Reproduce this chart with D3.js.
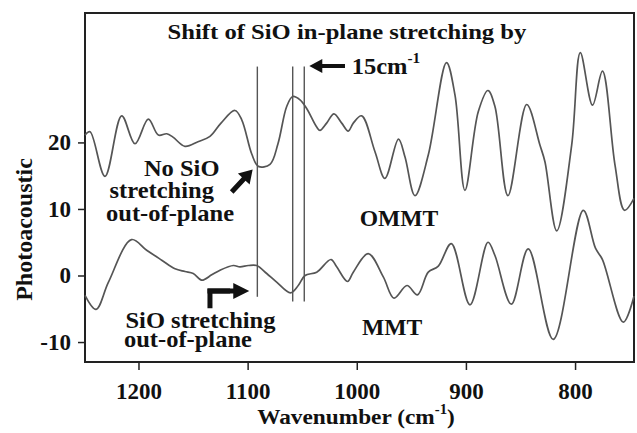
<!DOCTYPE html>
<html>
<head>
<meta charset="utf-8">
<script src="https://cdn.jsdelivr.net/npm/d3@7"></script>
<style>
  html, body { margin: 0; padding: 0; background: #fff; }
  svg { display: block; }
  text { font-family: "Liberation Serif", "Times New Roman", serif; font-weight: bold; fill: #111; }
</style>
</head>
<body>
<svg id="chart" width="637" height="433"></svg>
<script>
// Photoacoustic FTIR spectra, organo-modified (OMMT) and pristine (MMT) montmorillonite
const ommtWavenumber = [1249, 1244.4, 1230.7, 1215.4, 1203.2, 1191.0, 1181.8, 1174.1, 1168.4, 1157.4,
  1145.5, 1134.5, 1124.4, 1111.6, 1105.4, 1096.3, 1090.2, 1079.5, 1072.2, 1064.2,
  1058.7, 1052.0, 1045.9, 1036.7, 1033.7, 1027.6, 1020.9, 1013.8, 1007.8, 1003.2,
  995.5, 983.3, 974.2, 961.8, 955.8, 946.7, 934.5, 917.8, 910.0, 900.9,
  888.7, 879.8, 873.4, 861.5, 844.3, 832.2, 827.6, 816.8, 803.1, 795.2,
  784.0, 774.9, 763.4, 754.7, 746];
const ommtSignal = [21.1, 21.6, 14.9, 24.0, 19.8, 23.5, 21.1, 21.3, 20.8, 19.4,
  20.1, 20.9, 22.9, 24.8, 23.4, 18.3, 16.4, 16.7, 19.8, 25.4,
  26.9, 26.4, 25.1, 22.3, 21.8, 22.9, 24.3, 22.9, 21.7, 22.9,
  24.0, 18.6, 14.6, 20.5, 17.8, 12.0, 18.1, 32.0, 27.1, 12.8,
  24.6, 27.8, 25.4, 12.0, 25.7, 19.6, 17.1, 6.7, 19.6, 33.5,
  25.6, 30.7, 16.6, 9.8, 11.6];

const mmtWavenumber = [1249, 1238.9, 1227.5, 1206.4, 1192.5, 1178.7, 1166.5, 1157.4, 1149.8, 1142.1,
  1132.9, 1125.3, 1113.1, 1107.0, 1099.4, 1091.7, 1082.5, 1073.4, 1060.7, 1053.6,
  1047.4, 1036.7, 1023.6, 1018.4, 1008.5, 1003.2, 989.5, 975.7, 965.9, 954.0,
  944.4, 934.5, 925.3, 913.4, 896.3, 879.8, 873.4, 858.4, 842.9, 820.0,
  792.5, 781.3, 774.9, 755.8, 746];
const mmtSignal = [-3.0, -5.1, -1.0, 5.4, 3.8, 2.3, 1.0, 0.6, 0.3, -0.7,
  0.1, 0.8, 1.5, 1.3, 1.5, 1.5, 0.3, -1.0, -2.6, -1.5,
  0.0, 0.5, 2.4, 1.3, -0.9, 0.5, 3.3, -0.2, -3.4, -1.5,
  -2.9, 0.5, 1.4, 4.8, -4.4, 5.0, 3.0, -4.3, 4.0, -9.6,
  9.8, 4.1, 2.4, -7.0, -3.1];

// SiO stretching band positions (cm-1) and the vertical extent of each marker
const markerWavenumber = [1091.1, 1058.7, 1048.1];
const markerTop = [31.4, 31.4, 31.4];
const markerBottom = [-3.2, -3.9, -3.9];

const xTicks = [1200, 1100, 1000, 900, 800];
const yTicks = [-10, 0, 10, 20];

const svg = d3.select("#chart");
const plot = { left: 85, right: 634, top: 13, bottom: 362 };

const x = d3.scaleLinear().domain([1249, 746]).range([plot.left, plot.right]);
const y = d3.scaleLinear().domain([-13, 39.45]).range([plot.bottom, plot.top]);

// axes (plain hyphen for negative tick labels)
const plain = d => String(d);
const xAxis = d3.axisBottom(x).tickValues(xTicks).tickSize(8).tickPadding(8).tickFormat(plain);
const yAxis = d3.axisLeft(y).tickValues(yTicks).tickSize(7).tickPadding(7).tickFormat(plain);

const gx = svg.append("g").attr("transform", `translate(0,${plot.bottom})`).call(xAxis);
const gy = svg.append("g").attr("transform", `translate(${plot.left},0)`).call(yAxis);
[gx, gy].forEach(g => {
  g.select(".domain").remove();
  g.selectAll(".tick line").attr("stroke", "#222").attr("stroke-width", 1.5);
  g.selectAll(".tick text").style("font-size", "23px").attr("fill", "#111")
    .style("font-family", "'Liberation Serif', serif").style("font-weight", "bold");
});
gx.selectAll(".tick text").attr("dy", "0.9em");

// frame
svg.append("rect")
  .attr("x", plot.left).attr("y", plot.top)
  .attr("width", plot.right - plot.left).attr("height", plot.bottom - plot.top)
  .attr("fill", "none").attr("stroke", "#222").attr("stroke-width", 2);

// marker lines
svg.append("g").selectAll("line")
  .data(markerWavenumber)
  .join("line")
  .attr("x1", d => x(d)).attr("x2", d => x(d))
  .attr("y1", (d, i) => y(markerTop[i])).attr("y2", (d, i) => y(markerBottom[i]))
  .attr("stroke", "#555").attr("stroke-width", 1.4);

// spectra
const line = d3.line().x(d => x(d[0])).y(d => y(d[1])).curve(d3.curveCatmullRom.alpha(0.5));
const spectra = [
  { name: "OMMT", points: d3.zip(ommtWavenumber, ommtSignal) },
  { name: "MMT", points: d3.zip(mmtWavenumber, mmtSignal) }
];
svg.append("g").selectAll("path")
  .data(spectra)
  .join("path")
  .attr("d", d => line(d.points))
  .attr("fill", "none").attr("stroke", "#555").attr("stroke-width", 1.7);

// text labels: the typeface is set slightly wide, so glyphs get a horizontal stretch
function label(txt, wx, wy, anchor, size, stretch) {
  return svg.append("text")
    .attr("transform", `translate(${x(wx)},${y(wy)}) scale(${stretch || 1},1)`)
    .attr("text-anchor", anchor || "start")
    .style("font-size", size + "px")
    .text(txt);
}

label("Shift of SiO in-plane stretching by", 1009, 35.5, "middle", 22, 1.12);
const shift = label("15cm", 1004.7, 30.3, "start", 22.5, 1.09);
shift.append("tspan").attr("dy", -11).style("font-size", "14px").text("-1");

label("No SiO", 1160.4, 15.0, "middle", 22.5, 1.09);
label("stretching", 1178.7, 11.65, "middle", 22.5, 1.09);
label("out-of-plane", 1171.1, 8.2, "middle", 22.5, 1.09);
label("OMMT", 961.3, 7.4, "middle", 22.5, 1.05);
label("MMT", 967.7, -9.0, "middle", 22.5, 1.05);
label("SiO stretching", 1211.9, -7.94, "start", 22.5, 1.09);
label("out-of-plane", 1213.3, -10.76, "start", 22.5, 1.09);

// axis titles
const xt = svg.append("text")
  .attr("transform", "translate(356,424) scale(1.06,1)").attr("text-anchor", "middle")
  .style("font-size", "22px").text("Wavenumber (cm");
xt.append("tspan").attr("dy", -10).style("font-size", "14px").text("-1");
xt.append("tspan").attr("dy", 10).text(")");

svg.append("text")
  .attr("transform", `translate(32,${(plot.top + plot.bottom) / 2 + 42}) rotate(-90)`)
  .attr("text-anchor", "middle")
  .style("font-size", "24px").text("Photoacoustic");

// arrows
const arrowFill = "#111";
function arrow(x0, y0, x1, y1, shaft, headLen, headHalf) {
  const dx = x1 - x0, dy = y1 - y0, len = Math.hypot(dx, dy);
  const ux = dx / len, uy = dy / len, nx = -uy, ny = ux;
  const bx = x1 - ux * headLen, by = y1 - uy * headLen;
  const s = shaft / 2;
  const pts = [
    [x0 + nx * s, y0 + ny * s], [bx + nx * s, by + ny * s], [bx + nx * headHalf, by + ny * headHalf],
    [x1, y1],
    [bx - nx * headHalf, by - ny * headHalf], [bx - nx * s, by - ny * s], [x0 - nx * s, y0 - ny * s]
  ];
  svg.append("path").attr("d", "M" + pts.map(p => p.join(",")).join("L") + "Z").attr("fill", arrowFill);
}

// "15 cm-1" shift arrow
arrow(x(1010.8), y(31.5), x(1043.5), y(31.5), 4, 13, 7);
// pointer to the missing out-of-plane band
arrow(x(1114.6), y(12.56), x(1095.4), y(15.93), 5, 13, 8);
// elbow pointer to the out-of-plane band
svg.append("path")
  .attr("d", `M${x(1134.5)},${y(-4.93)}L${x(1134.5)},${y(-2.33)}L${x(1116)},${y(-2.33)}`)
  .attr("fill", "none").attr("stroke", arrowFill).attr("stroke-width", 5).attr("stroke-linejoin", "miter");
arrow(x(1134.5) - 2.5, y(-2.33), x(1098.5), y(-2.33), 5, 16, 8);
</script>
</body>
</html>
